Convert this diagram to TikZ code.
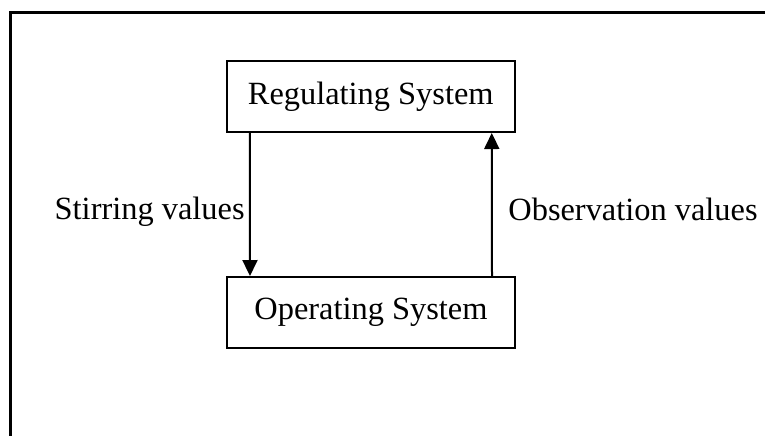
\documentclass[tikz,border=0pt]{standalone}
\usepackage{fontspec}
\setmainfont{Liberation Serif}
\usetikzlibrary{arrows.meta}
\tikzset{
  sysbox/.style = {draw, line width = 1pt, minimum width = 144pt, minimum height = 35.5pt, inner sep = 0pt},
  flowlabel/.style = {inner sep = 0pt},
  flow/.style = {-{Triangle[width = 7.5pt, length = 8pt]}, line width = 1pt}
}
\begin{document}
\begin{tikzpicture}[x = 0.5pt, y = -0.5pt, font = \fontsize{16.2}{19}\selectfont]
\useasboundingbox (0,0) rectangle (765,436);
\draw [line width = 1.1pt] (765,12.5) -- (10.5,12.5) -- (10.5,436);
\node (Reg) [sysbox] at (370.75,96.5) {Regulating System};
\node (Ope) [sysbox] at (371,312.5) {Operating System};
\node (Stir) [flowlabel, anchor = base east] at (245,219) {Stirring values};
\node (Obs) [flowlabel, anchor = base west] at (508,220) {Observation values};
\draw [flow] ([xshift = 12pt]Reg.south west) -- ([xshift = 12pt]Ope.north west);
\draw [flow] ([xshift = -12pt]Ope.north east) -- ([xshift = -12pt]Reg.south east);
\end{tikzpicture}
\end{document}
